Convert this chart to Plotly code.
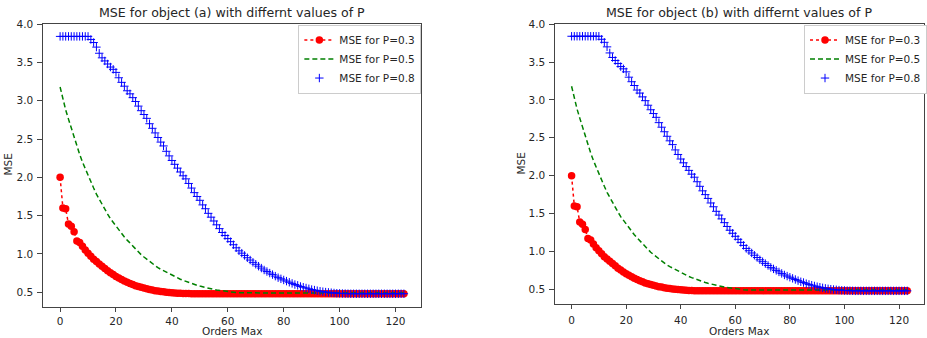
import plotly.graph_objects as go

# ---------------- data ----------------
orders = list(range(124))

mse_p03 = [
    2.00, 1.60, 1.59, 1.39, 1.36, 1.29, 1.17, 1.15, 1.10, 1.05,
    1.01, 0.97, 0.93, 0.90, 0.87, 0.84, 0.81, 0.78, 0.755, 0.73,
    0.705, 0.685, 0.665, 0.645, 0.63, 0.615, 0.60, 0.585, 0.575, 0.565,
    0.555, 0.545, 0.535, 0.53, 0.52, 0.515, 0.51, 0.505, 0.50, 0.497,
    0.494, 0.491, 0.488, 0.486, 0.484, 0.483, 0.482, 0.481, 0.48, 0.48,
    0.48, 0.48, 0.48, 0.48, 0.48, 0.48, 0.48, 0.48, 0.48, 0.48,
    0.48, 0.48, 0.48, 0.48, 0.48, 0.48, 0.48, 0.48, 0.48, 0.48,
    0.48, 0.48, 0.48, 0.48, 0.48, 0.48, 0.48, 0.48, 0.48, 0.48,
    0.48, 0.48, 0.48, 0.48, 0.48, 0.48, 0.48, 0.48, 0.48, 0.48,
    0.48, 0.48, 0.48, 0.48, 0.48, 0.48, 0.48, 0.48, 0.48, 0.48,
    0.48, 0.48, 0.48, 0.48, 0.48, 0.48, 0.48, 0.48, 0.48, 0.48,
    0.48, 0.48, 0.48, 0.48, 0.48, 0.48, 0.48, 0.48, 0.48, 0.48,
    0.48, 0.48, 0.48, 0.48,
]

mse_p05 = [
    3.18, 3.02, 2.88, 2.76, 2.64, 2.52, 2.41, 2.30, 2.20, 2.11,
    2.02, 1.94, 1.86, 1.78, 1.71, 1.65, 1.58, 1.52, 1.46, 1.41,
    1.36, 1.31, 1.26, 1.22, 1.18, 1.14, 1.10, 1.06, 1.03, 0.99,
    0.96, 0.93, 0.90, 0.87, 0.85, 0.82, 0.80, 0.78, 0.76, 0.74,
    0.72, 0.70, 0.685, 0.67, 0.655, 0.64, 0.625, 0.61, 0.60, 0.59,
    0.58, 0.57, 0.56, 0.55, 0.543, 0.536, 0.53, 0.524, 0.518, 0.512,
    0.506, 0.50, 0.497, 0.495, 0.493, 0.492, 0.491, 0.49, 0.49, 0.49,
    0.49, 0.49, 0.49, 0.49, 0.49, 0.49, 0.49, 0.49, 0.49, 0.49,
    0.49, 0.49, 0.49, 0.49, 0.49, 0.49, 0.49, 0.49, 0.49, 0.49,
    0.49, 0.49, 0.49, 0.49, 0.49, 0.49, 0.49, 0.49, 0.49, 0.49,
    0.49, 0.49, 0.49, 0.49, 0.49, 0.49, 0.49, 0.49, 0.49, 0.49,
    0.49, 0.49, 0.49, 0.49, 0.49, 0.49, 0.49, 0.49, 0.49, 0.49,
    0.49, 0.49, 0.49, 0.49,
]

mse_p08 = [
    3.84, 3.84, 3.84, 3.84, 3.84, 3.84, 3.84, 3.84, 3.84, 3.84,
    3.84, 3.80, 3.76, 3.70, 3.62, 3.56, 3.52, 3.48, 3.44, 3.41,
    3.37, 3.30, 3.24, 3.19, 3.13, 3.09, 3.04, 2.99, 2.93, 2.87,
    2.82, 2.77, 2.70, 2.64, 2.58, 2.52, 2.46, 2.41, 2.34, 2.28,
    2.22, 2.17, 2.12, 2.07, 2.02, 1.98, 1.92, 1.86, 1.80, 1.75,
    1.70, 1.64, 1.59, 1.53, 1.48, 1.43, 1.38, 1.33, 1.28, 1.24,
    1.20, 1.16, 1.12, 1.08, 1.04, 1.01, 0.98, 0.95, 0.92, 0.89,
    0.865, 0.84, 0.815, 0.79, 0.77, 0.75, 0.73, 0.71, 0.69, 0.675,
    0.66, 0.645, 0.63, 0.615, 0.60, 0.59, 0.575, 0.565, 0.555, 0.545,
    0.535, 0.528, 0.52, 0.513, 0.507, 0.502, 0.498, 0.494, 0.49, 0.487,
    0.485, 0.483, 0.482, 0.481, 0.48, 0.48, 0.48, 0.48, 0.48, 0.48,
    0.48, 0.48, 0.48, 0.48, 0.48, 0.48, 0.48, 0.48, 0.48, 0.48,
    0.48, 0.48, 0.48, 0.48,
]

titles = ["MSE for object (a) with differnt values of P",
          "MSE for object (b) with differnt values of P"]
series_names = ["MSE for P=0.3", "MSE for P=0.5", "MSE for P=0.8"]
x_ticks = [0, 20, 40, 60, 80, 100, 120]
y_ticks = [0.5, 1.0, 1.5, 2.0, 2.5, 3.0, 3.5, 4.0]

# ---------------- figure ----------------
W, H = 927, 338
FONT = "DejaVu Sans"
TXT = "#262626"

# the captured page shows the figure with a small vertical offset/scale;
# convert a wanted on-screen pixel row into a paper fraction
Y_OFF, Y_SCALE = 7.6, 0.975


def py(y_px):
    return 1 - ((y_px - Y_OFF) / Y_SCALE) / H


def px(x_px):
    return x_px / W


fig = go.Figure()

panels = [
    dict(xa="x", ya="y", legend="legend", xd=[px(43), px(422)], yd=[py(306), py(25)]),
    dict(xa="x2", ya="y2", legend="legend2", xd=[px(556), px(926)], yd=[py(303), py(25)]),
]

for p in panels:
    fig.add_trace(go.Scatter(
        x=orders, y=mse_p03, name=series_names[0], mode="lines+markers",
        line=dict(color="#ff0000", width=1.5, dash="dot"),
        marker=dict(color="#ff0000", size=7.5, symbol="circle"),
        xaxis=p["xa"], yaxis=p["ya"], legend=p["legend"]))
    fig.add_trace(go.Scatter(
        x=orders, y=mse_p05, name=series_names[1], mode="lines",
        line=dict(color="#008000", width=1.5, dash="5px,3px"),
        xaxis=p["xa"], yaxis=p["ya"], legend=p["legend"]))
    fig.add_trace(go.Scatter(
        x=orders, y=mse_p08, name=series_names[2], mode="markers",
        marker=dict(color="#0000ff", size=6, symbol="cross-thin",
                    line=dict(color="#0000ff", width=1)),
        xaxis=p["xa"], yaxis=p["ya"], legend=p["legend"]))

axis_common = dict(
    showgrid=False, zeroline=False, showline=True, linecolor="#444444", linewidth=1,
    mirror=True, ticks="outside", ticklen=4.5, tickcolor="#444444",
    tickfont=dict(family=FONT, size=10.5, color=TXT),
)

legend_common = dict(
    xanchor="left", yanchor="top",
    bgcolor="white", bordercolor="#cccccc", borderwidth=1,
    font=dict(family=FONT, size=10.5, color=TXT),
    tracegroupgap=0, itemwidth=30,
)

fig.update_layout(
    width=W, height=H, margin=dict(l=0, r=0, t=0, b=0),
    paper_bgcolor="white", plot_bgcolor="white",
    font=dict(family=FONT, size=10.5, color=TXT),
    xaxis=dict(domain=panels[0]["xd"], anchor="y", range=[-6.15, 129.15],
               tickvals=x_ticks, ticklabelstandoff=0, **axis_common),
    yaxis=dict(domain=panels[0]["yd"], anchor="x", range=[0.312, 4.008],
               tickvals=y_ticks, tickformat=".1f", ticklabelstandoff=2, **axis_common),
    xaxis2=dict(domain=panels[1]["xd"], anchor="y2", range=[-6.15, 129.15],
                tickvals=x_ticks, ticklabelstandoff=2, **axis_common),
    yaxis2=dict(domain=panels[1]["yd"], anchor="x2", range=[0.312, 4.008],
                tickvals=y_ticks, tickformat=".1f", ticklabelstandoff=2, **axis_common),
    legend=dict(x=px(299), y=py(26), **legend_common),
    legend2=dict(x=px(806), y=py(26), **legend_common),
    showlegend=True,
)

annotations = []
centers = [px((43 + 422) / 2), px((556 + 926) / 2)]
for i, c in enumerate(centers):
    annotations.append(dict(text=titles[i], x=c, y=py(14), xref="paper", yref="paper",
                            xanchor="center", yanchor="middle", showarrow=False,
                            font=dict(family=FONT, size=12.6, color=TXT)))
    annotations.append(dict(text="Orders Max", x=c, y=0, xref="paper", yref="paper",
                            xanchor="center", yanchor="bottom", showarrow=False, borderpad=0,
                            font=dict(family=FONT, size=10.5, color=TXT)))
ylab_x = [px(8), px(522)]
ylab_y = [py(165), py(164)]
for i in range(2):
    annotations.append(dict(text="MSE", x=ylab_x[i], y=ylab_y[i], xref="paper", yref="paper",
                            xanchor="center", yanchor="middle", showarrow=False, textangle=-90,
                            font=dict(family=FONT, size=10.5, color=TXT)))
fig.update_layout(annotations=annotations)

fig.write_html("out.html",
               config={"displayModeBar": False},
               post_script="document.body.style.margin='0';document.body.style.overflow='hidden';")
